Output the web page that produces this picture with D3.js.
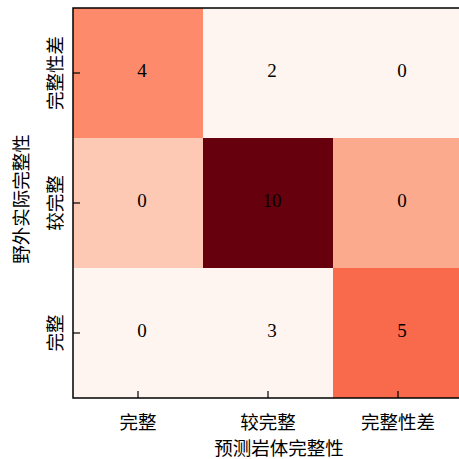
<!DOCTYPE html>
<html>
<head>
<meta charset="utf-8">
<script src="https://cdn.jsdelivr.net/npm/d3@7"></script>
<style>
  html, body { margin: 0; padding: 0; background: #fff; }
  svg { display: block; }
</style>
</head>
<body>
<svg id="chart" width="459" height="459"></svg>
<script>
// Confusion matrix of rock-mass integrity: rows = field (actual), columns = predicted
const actualLabels = ["完整性差", "较完整", "完整"];
const predictedLabels = ["完整", "较完整", "完整性差"];
const counts = [
  [4, 0, 0],
  [2, 10, 3],
  [0, 0, 5]
];
const xTitle = "预测岩体完整性";
const yTitle = "野外实际完整性";

const plot = { left: 73, top: 8, size: 390 };

const svg = d3.select("#chart");

const x = d3.scaleBand().domain(predictedLabels).range([plot.left, plot.left + plot.size]);
const y = d3.scaleBand().domain(actualLabels).range([plot.top, plot.top + plot.size]);
const color = d3.scaleSequential(d3.interpolateReds).domain([0, 10]);

const cells = [];
counts.forEach((row, r) => row.forEach((v, c) => cells.push({ r, c, v })));

// heatmap cells
svg.append("g").selectAll("rect").data(cells).join("rect")
  .attr("x", d => x(predictedLabels[d.c]))
  .attr("y", d => y(actualLabels[d.r]))
  .attr("width", x.bandwidth())
  .attr("height", y.bandwidth())
  .attr("fill", d => color(d.v));

// cell annotations (written with row/column indices swapped)
svg.append("g").selectAll("text").data(cells).join("text")
  .attr("x", d => x(predictedLabels[d.c]) + x.bandwidth() / 2 + 4)
  .attr("y", d => y(actualLabels[d.r]) + y.bandwidth() / 2 - 3)
  .attr("text-anchor", "middle")
  .attr("dominant-baseline", "central")
  .attr("font-family", "'Liberation Serif', 'DejaVu Serif', serif")
  .attr("font-size", 19)
  .attr("fill", "#000")
  .text(d => counts[d.c][d.r]);

const cjk = "'Noto Sans CJK SC', 'Noto Sans', sans-serif";

// bottom axis, inward ticks
const gx = svg.append("g")
  .attr("transform", `translate(0,${plot.top + plot.size})`)
  .call(d3.axisBottom(x).tickSizeInner(-7).tickSizeOuter(0).tickPadding(18));
gx.select(".domain").remove();
gx.selectAll(".tick line").attr("stroke", "#000").attr("stroke-width", 1.2);
gx.selectAll(".tick text")
  .attr("y", 23).attr("dy", null)
  .attr("dominant-baseline", "central")
  .attr("font-family", cjk).attr("font-size", 18.5).attr("fill", "#000");

// left axis, inward ticks, rotated labels
const gy = svg.append("g")
  .attr("transform", `translate(${plot.left},0)`)
  .call(d3.axisLeft(y).tickSizeInner(-7).tickSizeOuter(0));
gy.select(".domain").remove();
gy.selectAll(".tick line").attr("stroke", "#000").attr("stroke-width", 1.2);
gy.selectAll(".tick text")
  .attr("x", null).attr("dy", null)
  .attr("transform", "translate(-19,0) rotate(-90)")
  .attr("text-anchor", "middle")
  .attr("dominant-baseline", "central")
  .attr("font-family", cjk).attr("font-size", 18.5).attr("fill", "#000");

// axes frame
svg.append("rect")
  .attr("x", plot.left).attr("y", plot.top)
  .attr("width", plot.size).attr("height", plot.size)
  .attr("fill", "none").attr("stroke", "#000").attr("stroke-width", 1.5);

// axis titles
svg.append("text")
  .attr("x", 279).attr("y", 447)
  .attr("text-anchor", "middle").attr("dominant-baseline", "central")
  .attr("font-family", cjk).attr("font-size", 18.5).attr("fill", "#000")
  .text(xTitle);

svg.append("text")
  .attr("transform", `translate(20,${plot.top + plot.size / 2 - 4}) rotate(-90)`)
  .attr("text-anchor", "middle").attr("dominant-baseline", "central")
  .attr("font-family", cjk).attr("font-size", 18.5).attr("fill", "#000")
  .text(yTitle);
</script>
</body>
</html>
